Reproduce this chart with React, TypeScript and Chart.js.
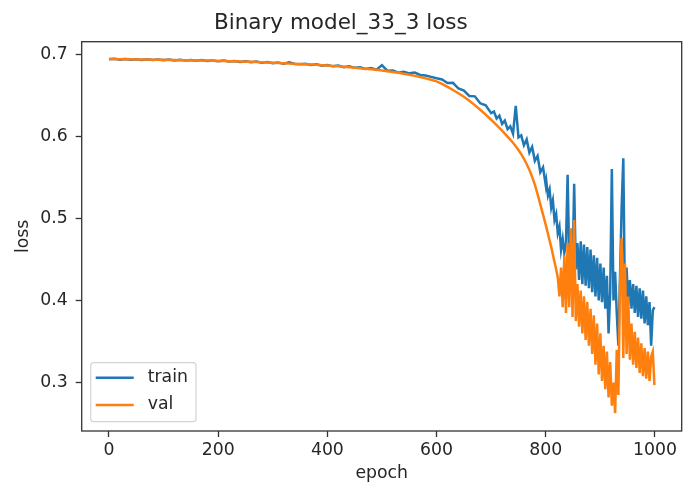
import React, { useEffect, useRef } from "react";
import { Chart, registerables } from "chart.js";

Chart.register(...registerables);

// Epochs at which the loss was sampled (denser where training gets noisy)
const epochs = [
  0, 10, 20, 30, 40, 50, 60, 70, 80, 90,
  100, 110, 120, 130, 140, 150, 160, 170, 180, 190,
  200, 210, 220, 230, 240, 250, 260, 270, 280, 290,
  300, 310, 320, 330, 340, 350, 360, 370, 380, 390,
  400, 410, 420, 430, 440, 450, 460, 470, 480, 490,
  500, 510, 520, 530, 540, 550, 560, 570, 580, 590,
  600, 610, 620, 630, 640, 650, 660, 670, 680, 690,
  700,
  705, 710, 715, 720, 725, 730, 735, 740, 745, 750,
  755, 760, 765, 770, 775, 780, 785, 790, 795, 800,
  801, 804, 807, 810, 813, 816, 819, 822, 825, 828,
  831, 834, 837, 840, 843, 846, 849, 852, 855, 858,
  861, 864, 867, 870, 873, 876, 879, 882, 885, 888,
  891, 894, 897, 900, 903, 906, 909, 912, 915, 918,
  921, 924, 927, 930, 933, 936, 939, 942, 945, 948,
  951, 954, 957, 960, 963, 966, 969, 972, 975, 978,
  981, 984, 987, 990, 993, 996, 999,
];

const trainLoss = [
  0.6935, 0.6942, 0.693, 0.694, 0.6931, 0.6937, 0.6928, 0.6936, 0.6926, 0.6934,
  0.6925, 0.6932, 0.6922, 0.693, 0.692, 0.6928, 0.6918, 0.6926, 0.6915, 0.6922,
  0.6912, 0.692, 0.6908, 0.6915, 0.6904, 0.6912, 0.6899, 0.6908, 0.6894, 0.6902,
  0.6889, 0.6897, 0.6882, 0.69, 0.6878, 0.6875, 0.688, 0.6866, 0.6874, 0.6858,
  0.6867, 0.685, 0.686, 0.684, 0.6852, 0.6832, 0.6838, 0.6818, 0.683, 0.6808,
  0.6865, 0.6795, 0.68, 0.6772, 0.6785, 0.6765, 0.6775, 0.6745, 0.6738, 0.6722,
  0.6705, 0.669, 0.6648, 0.665, 0.658, 0.6555, 0.649, 0.6485, 0.64, 0.6375,
  0.628,
  0.63, 0.6215, 0.625, 0.615, 0.619, 0.6085, 0.612, 0.603, 0.637, 0.5985,
  0.601, 0.589, 0.596, 0.58, 0.587, 0.57, 0.576, 0.556, 0.562, 0.54,
  0.545, 0.528, 0.535, 0.513, 0.522, 0.498, 0.505, 0.482, 0.49, 0.462,
  0.475, 0.458, 0.47, 0.553, 0.45, 0.465, 0.44, 0.542, 0.438, 0.47,
  0.425, 0.472, 0.42, 0.468, 0.418, 0.465, 0.415, 0.462, 0.41, 0.455,
  0.405, 0.452, 0.4, 0.445, 0.398, 0.44, 0.39, 0.43, 0.36, 0.41,
  0.56, 0.4, 0.435, 0.385, 0.345, 0.43, 0.515, 0.573, 0.395, 0.44,
  0.395, 0.425, 0.39, 0.42, 0.385, 0.418, 0.38, 0.415, 0.378, 0.412,
  0.372, 0.405, 0.37, 0.398, 0.345, 0.388, 0.392,
];

const valLoss = [
  0.694, 0.6939, 0.6937, 0.6938, 0.6935, 0.6934, 0.6934, 0.6932, 0.6931, 0.6931,
  0.6929, 0.6928, 0.6927, 0.6925, 0.6925, 0.6923, 0.6922, 0.692, 0.692, 0.6918,
  0.6916, 0.6915, 0.6912, 0.6911, 0.6909, 0.6906, 0.6905, 0.6902, 0.69, 0.6897,
  0.6895, 0.6891, 0.6889, 0.6885, 0.6883, 0.6879, 0.6876, 0.6872, 0.6869, 0.6864,
  0.686, 0.6855, 0.6851, 0.6845, 0.684, 0.6834, 0.6828, 0.6822, 0.6815, 0.6808,
  0.68, 0.6791, 0.6782, 0.6771, 0.676, 0.6748, 0.6734, 0.672, 0.6704, 0.6687,
  0.6668, 0.6636, 0.66, 0.6562, 0.6522, 0.648, 0.643, 0.6378, 0.6322, 0.6262,
  0.62,
  0.6168, 0.6135, 0.6102, 0.6068, 0.6032, 0.5995, 0.5958, 0.592, 0.5878, 0.5832,
  0.5782, 0.5725, 0.5662, 0.559, 0.5505, 0.541, 0.5295, 0.517, 0.5045, 0.492,
  0.4893, 0.4812, 0.4731, 0.465, 0.456, 0.447, 0.438, 0.428, 0.405, 0.44,
  0.392, 0.455, 0.385, 0.47, 0.392, 0.488, 0.38, 0.498, 0.375, 0.42,
  0.368, 0.412, 0.36, 0.405, 0.352, 0.398, 0.345, 0.39, 0.335, 0.382,
  0.322, 0.372, 0.31, 0.36, 0.302, 0.345, 0.292, 0.338, 0.282, 0.325,
  0.272, 0.3, 0.263, 0.34, 0.285, 0.42, 0.476, 0.33, 0.445, 0.335,
  0.405, 0.328, 0.372, 0.322, 0.362, 0.318, 0.355, 0.312, 0.348, 0.308,
  0.342, 0.305, 0.338, 0.302, 0.332, 0.338, 0.297,
];

const xTicks = [0, 200, 400, 600, 800, 1000];
const yTicks = [0.3, 0.4, 0.5, 0.6, 0.7];
const seriesNames = ["train", "val"];
const seriesColors = ["#1f77b4", "#ff7f0e"];

const FONT = "'DejaVu Sans', sans-serif";
const TEXT = "#262626";
const LINE_W = 2.5;

// Axes box on all four sides plus an in-plot legend at the lower left
const boxAndLegend = {
  id: "boxAndLegend",
  afterDatasetsDraw(chart: any) {
    const { ctx, chartArea: a } = chart;
    ctx.save();
    ctx.strokeStyle = "#333333";
    ctx.lineWidth = 1.3;
    ctx.strokeRect(a.left, a.top, a.right - a.left, a.bottom - a.top);

    const w = 105.3;
    const h = 59;
    const x0 = a.left + 9;
    const y0 = a.bottom - 9.3 - h;
    ctx.beginPath();
    ctx.roundRect(x0, y0, w, h, 3);
    ctx.fillStyle = "rgba(255,255,255,0.8)";
    ctx.fill();
    ctx.strokeStyle = "#d4d4d4";
    ctx.lineWidth = 1.2;
    ctx.stroke();

    ctx.font = `17.3px ${FONT}`;
    ctx.textBaseline = "middle";
    ctx.textAlign = "left";
    seriesNames.forEach((name, i) => {
      const ly = y0 + 15 + i * 27.3;
      ctx.beginPath();
      ctx.moveTo(x0 + 5, ly);
      ctx.lineTo(x0 + 43, ly);
      ctx.strokeStyle = seriesColors[i];
      ctx.lineWidth = LINE_W;
      ctx.stroke();
      ctx.fillStyle = TEXT;
      ctx.fillText(name, x0 + 57, ly);
    });
    ctx.restore();
  },
};

export default function App() {
  const ref = useRef<HTMLCanvasElement>(null);

  useEffect(() => {
    if (!ref.current) return;
    const toPoints = (ys: number[]) => epochs.map((x, i) => ({ x, y: ys[i] }));
    const chart = new Chart(ref.current, {
      type: "line",
      data: {
        datasets: [
          {
            label: seriesNames[0],
            data: toPoints(trainLoss),
            borderColor: seriesColors[0],
            backgroundColor: seriesColors[0],
            borderWidth: LINE_W,
            pointRadius: 0,
            tension: 0,
            order: 2,
          },
          {
            label: seriesNames[1],
            data: toPoints(valLoss),
            borderColor: seriesColors[1],
            backgroundColor: seriesColors[1],
            borderWidth: LINE_W,
            pointRadius: 0,
            tension: 0,
            order: 1,
          },
        ],
      },
      plugins: [boxAndLegend],
      options: {
        responsive: false,
        devicePixelRatio: 1,
        animation: false,
        layout: { padding: { left: 0, right: 14.3, top: 0, bottom: 0 } },
        plugins: {
          legend: { display: false },
          tooltip: { enabled: false },
          title: {
            display: true,
            text: "Binary model_33_3 loss",
            color: TEXT,
            font: { family: FONT, size: 21.5, weight: "normal" },
            padding: { top: 10.5, bottom: 5.4 },
          },
        },
        scales: {
          x: {
            type: "linear",
            min: -49.95,
            max: 1048.95,
            afterBuildTicks: (s: any) => {
              s.ticks = xTicks.map((value) => ({ value }));
            },
            afterFit: (s: any) => {
              s.height = 58;
            },
            ticks: {
              color: TEXT,
              font: { family: FONT, size: 17.3 },
              padding: 3,
              maxRotation: 0,
              autoSkip: false,
              callback: (v: any) => String(v),
            },
            grid: {
              drawOnChartArea: false,
              drawTicks: true,
              tickLength: 6,
              tickColor: "#333333",
              tickWidth: 1.3,
            },
            border: { display: false },
            title: {
              display: true,
              text: "epoch",
              color: TEXT,
              font: { family: FONT, size: 17.3 },
              padding: { top: 0, bottom: 5.6 },
            },
          },
          y: {
            type: "linear",
            min: 0.2412,
            max: 0.715,
            afterBuildTicks: (s: any) => {
              s.ticks = yTicks.map((value) => ({ value }));
            },
            afterFit: (s: any) => {
              s.width = 81.7;
            },
            ticks: {
              color: TEXT,
              font: { family: FONT, size: 17.3 },
              padding: 8,
              autoSkip: false,
              callback: (v: any) => Number(v).toFixed(1),
            },
            grid: {
              drawOnChartArea: false,
              drawTicks: true,
              tickLength: 6,
              tickColor: "#333333",
              tickWidth: 1.3,
            },
            border: { display: false },
            title: {
              display: true,
              text: "loss",
              color: TEXT,
              font: { family: FONT, size: 17.3 },
              padding: { top: 13.6, bottom: 0 },
            },
          },
        },
      },
    } as any);
    return () => chart.destroy();
  }, []);

  return (
    <div style={{ position: "absolute", left: 0, top: 0, width: 696, height: 489, background: "#fff" }}>
      <canvas ref={ref} width={696} height={489} style={{ display: "block", width: 696, height: 489 }} />
    </div>
  );
}
